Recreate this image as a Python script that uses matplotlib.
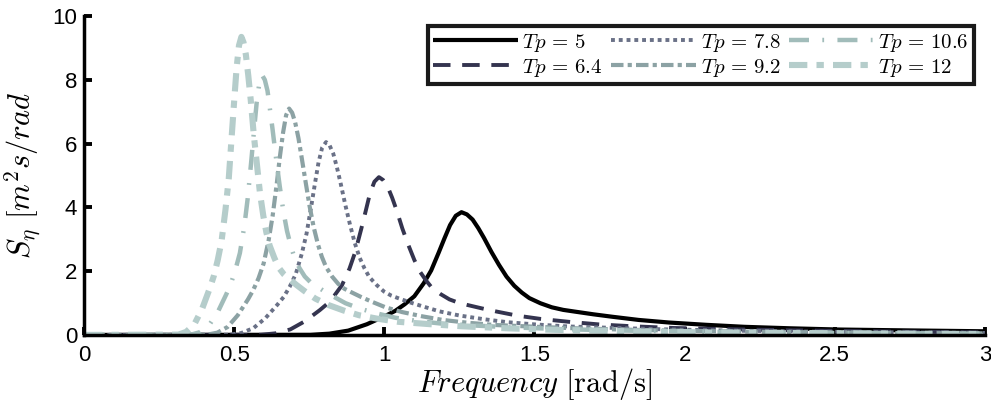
import numpy as np
import matplotlib
matplotlib.use('Agg')
import matplotlib.pyplot as plt

plt.rcParams['mathtext.fontset'] = 'cm'
plt.rcParams['font.family'] = ['Liberation Sans', 'DejaVu Sans']

# spectra, one (w, S) list per peak period
w_5 = [0.0, 0.754, 0.817, 0.880, 0.942, 1.005, 1.037, 1.068, 1.100, 1.131, 1.156, 1.181, 1.200,
       1.219, 1.238, 1.257, 1.275, 1.294, 1.313, 1.332, 1.357, 1.382, 1.407, 1.433, 1.458,
       1.483, 1.520, 1.558, 1.596, 1.634, 1.696, 1.759, 1.847, 1.948, 2.073, 2.199, 2.350,
       2.513, 2.765, 3.0]
s_5 = [0.0, 0.004, 0.039, 0.135, 0.335, 0.604, 0.758, 0.963, 1.213, 1.617, 2.021, 2.580, 3.022,
       3.446, 3.738, 3.850, 3.781, 3.619, 3.350, 3.042, 2.599, 2.195, 1.829, 1.540, 1.328,
       1.155, 0.993, 0.866, 0.785, 0.732, 0.647, 0.570, 0.470, 0.389, 0.316, 0.254, 0.208,
       0.169, 0.139, 0.114]

w_64 = [0.0, 0.589, 0.638, 0.687, 0.736, 0.785, 0.810, 0.834, 0.859, 0.884, 0.903, 0.923, 0.938,
        0.952, 0.967, 0.982, 0.996, 1.011, 1.026, 1.041, 1.060, 1.080, 1.100, 1.119, 1.139,
        1.158, 1.188, 1.217, 1.247, 1.276, 1.325, 1.374, 1.443, 1.522, 1.620, 1.718, 1.836,
        1.963, 2.160, 2.356, 2.651, 2.945, 3.0]
s_64 = [0.0, 0.005, 0.050, 0.173, 0.431, 0.777, 0.975, 1.238, 1.559, 2.079, 2.599, 3.317, 3.886,
        4.430, 4.806, 4.950, 4.861, 4.653, 4.307, 3.911, 3.341, 2.822, 2.351, 1.980, 1.708,
        1.485, 1.277, 1.114, 1.010, 0.941, 0.832, 0.733, 0.604, 0.500, 0.406, 0.327, 0.267,
        0.218, 0.178, 0.144, 0.109, 0.084, 0.081]

w_78 = [0.0, 0.483, 0.524, 0.564, 0.604, 0.644, 0.665, 0.685, 0.705, 0.725, 0.741, 0.757, 0.769,
        0.781, 0.793, 0.806, 0.818, 0.830, 0.842, 0.854, 0.870, 0.886, 0.902, 0.918, 0.934,
        0.950, 0.975, 0.999, 1.023, 1.047, 1.087, 1.128, 1.184, 1.249, 1.329, 1.410, 1.506,
        1.611, 1.772, 1.933, 2.175, 2.417, 2.819, 3.0]
s_78 = [0.0, 0.006, 0.061, 0.212, 0.526, 0.950, 1.192, 1.513, 1.906, 2.541, 3.176, 4.054, 4.749,
        5.415, 5.875, 6.050, 5.941, 5.687, 5.264, 4.780, 4.084, 3.449, 2.874, 2.420, 2.087,
        1.815, 1.561, 1.361, 1.234, 1.150, 1.016, 0.895, 0.738, 0.611, 0.496, 0.399, 0.327,
        0.266, 0.218, 0.175, 0.133, 0.103, 0.073, 0.062]

w_92 = [0.0, 0.410, 0.444, 0.478, 0.512, 0.546, 0.563, 0.581, 0.598, 0.615, 0.628, 0.642, 0.652,
        0.663, 0.673, 0.683, 0.693, 0.703, 0.714, 0.724, 0.738, 0.751, 0.765, 0.779, 0.792,
        0.806, 0.826, 0.847, 0.867, 0.888, 0.922, 0.956, 1.004, 1.059, 1.127, 1.195, 1.277,
        1.366, 1.503, 1.639, 1.844, 2.049, 2.391, 2.732, 3.0]
s_92 = [0.0, 0.007, 0.071, 0.249, 0.618, 1.115, 1.399, 1.775, 2.237, 2.982, 3.728, 4.757, 5.574,
        6.355, 6.894, 7.100, 6.972, 6.674, 6.177, 5.609, 4.793, 4.047, 3.373, 2.840, 2.450,
        2.130, 1.832, 1.598, 1.448, 1.349, 1.193, 1.051, 0.866, 0.717, 0.582, 0.469, 0.383,
        0.312, 0.256, 0.206, 0.156, 0.121, 0.085, 0.057, 0.049]

w_106 = [0.0, 0.356, 0.385, 0.415, 0.445, 0.474, 0.489, 0.504, 0.519, 0.534, 0.545, 0.557, 0.566,
         0.575, 0.584, 0.593, 0.602, 0.611, 0.619, 0.628, 0.640, 0.652, 0.664, 0.676, 0.688,
         0.700, 0.717, 0.735, 0.753, 0.771, 0.800, 0.830, 0.871, 0.919, 0.978, 1.037, 1.109,
         1.186, 1.304, 1.423, 1.601, 1.778, 2.075, 2.371, 3.0]
s_106 = [0.0, 0.008, 0.082, 0.285, 0.709, 1.280, 1.606, 2.038, 2.567, 3.423, 4.279, 5.461, 6.398,
         7.294, 7.914, 8.150, 8.003, 7.661, 7.091, 6.439, 5.501, 4.646, 3.871, 3.260, 2.812,
         2.445, 2.103, 1.834, 1.663, 1.549, 1.369, 1.206, 0.994, 0.823, 0.668, 0.538, 0.440,
         0.359, 0.293, 0.236, 0.179, 0.139, 0.098, 0.065, 0.040]

w_12 = [0.0, 0.314, 0.340, 0.367, 0.393, 0.419, 0.432, 0.445, 0.458, 0.471, 0.482, 0.492, 0.500,
        0.508, 0.516, 0.524, 0.531, 0.539, 0.547, 0.555, 0.565, 0.576, 0.586, 0.597, 0.607,
        0.618, 0.634, 0.649, 0.665, 0.681, 0.707, 0.733, 0.770, 0.812, 0.864, 0.916, 0.979,
        1.047, 1.152, 1.257, 1.414, 1.571, 1.833, 2.094, 3.0]
s_12 = [0.0, 0.009, 0.094, 0.327, 0.813, 1.468, 1.842, 2.338, 2.945, 3.927, 4.909, 6.265, 7.340,
        8.368, 9.079, 9.350, 9.182, 8.789, 8.135, 7.387, 6.311, 5.330, 4.441, 3.740, 3.226,
        2.805, 2.412, 2.104, 1.907, 1.777, 1.571, 1.384, 1.141, 0.944, 0.767, 0.617, 0.505,
        0.411, 0.337, 0.271, 0.206, 0.159, 0.112, 0.075, 0.028]

labels = [r'$Tp\,=\,5$', r'$Tp\,=\,6.4$', r'$Tp\,=\,7.8$', r'$Tp\,=\,9.2$',
          r'$Tp\,=\,10.6$', r'$Tp\,=\,12$']
x_ticks = [0, 0.5, 1, 1.5, 2, 2.5, 3]
x_tick_labels = ['0', '0.5', '1', '1.5', '2', '2.5', '3']
y_ticks = [0, 2, 4, 6, 8, 10]

series = [(w_5, s_5), (w_64, s_64), (w_78, s_78), (w_92, s_92), (w_106, s_106), (w_12, s_12)]
colors = ['#000000', '#34344f', '#6a7187', '#8ca2a4', '#a1bcba', '#b5cdcb']
styles = [(0, ()), (0, (4.5, 3)), (0, (1, 1)), (0, (3, 1, 1, 1)), (0, (4.5, 3, 0.4, 3)),
          (0, (3, 1.5, 1.2, 1.5))]
widths = [3.0, 2.8, 2.8, 3.0, 3.2, 4.4]

fig = plt.figure(figsize=(9.91, 4.04), dpi=100)
ax = fig.add_axes([0.0848, 0.171, 0.909, 0.789])

for (w, s), c, ls, lw, lab in zip(series, colors, styles, widths, labels):
    ax.plot(w, s, color=c, linestyle=ls, linewidth=lw, label=lab)

ax.set_xlim(0, 3)
ax.set_ylim(0, 10)
ax.set_xticks(x_ticks)
ax.set_xticklabels(x_tick_labels)
ax.set_yticks(y_ticks)
for sp in ['top', 'right']:
    ax.spines[sp].set_visible(False)
for sp in ['left', 'bottom']:
    ax.spines[sp].set_linewidth(2.5)
ax.tick_params(direction='in', length=6, width=2.8, labelsize=16)
ax.tick_params(axis='x', pad=7)
ax.tick_params(axis='y', pad=5)

ax.set_xlabel(r'$Frequency\ \mathrm{[rad/s]}$', fontsize=22, labelpad=0)
ax.set_ylabel(r'$S_\eta\ [m^2s/rad$', fontsize=22, labelpad=6)

leg = ax.legend(ncol=3, loc='upper right', bbox_to_anchor=(0.988, 0.968), fontsize=15,
                handlelength=4.1, columnspacing=0.4, handletextpad=0.2, labelspacing=0.15,
                borderpad=0.25, borderaxespad=0.0, fancybox=False, framealpha=1,
                edgecolor='#1a1a1a')
leg.get_frame().set_linewidth(3)

plt.savefig('out.png', dpi=100)
plt.close()
